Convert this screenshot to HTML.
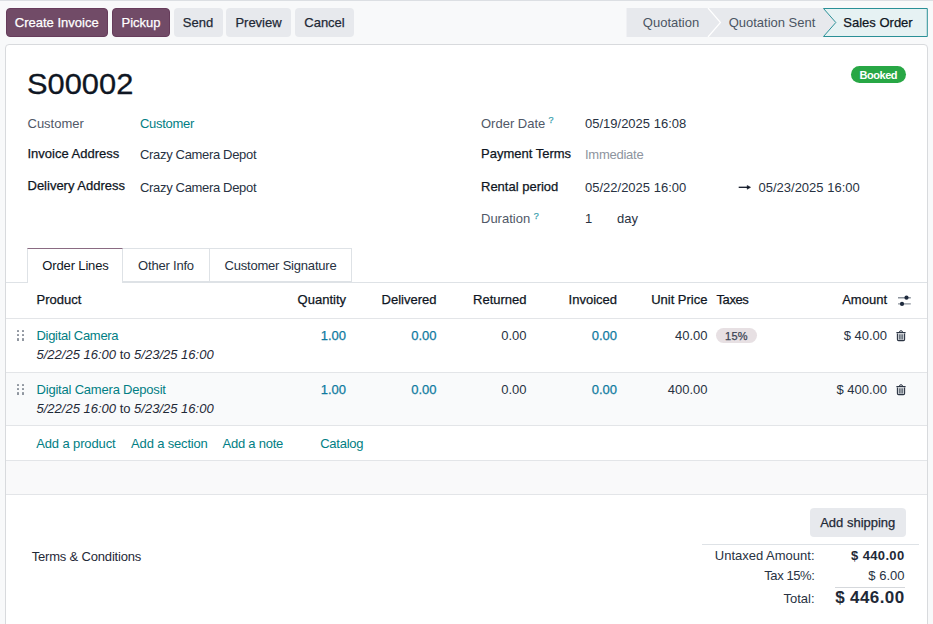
<!DOCTYPE html>
<html><head><meta charset="utf-8"><title>S00002</title>
<style>
html,body{margin:0;padding:0;}
html{overflow:hidden;background:#f8f9fa;}
body{width:933px;height:624px;overflow:hidden;position:relative;background:#f8f9fa;font-family:"Liberation Sans",sans-serif;}
.t{position:absolute;white-space:nowrap;}
.r{position:absolute;}
</style></head><body>
<div class="r" style="left:0px;top:0px;width:933px;height:1px;background:#dcdfe3;"></div>
<div class="r" style="left:5.5px;top:8px;width:102.5px;height:29px;background:#714b67;border-radius:4px;border:1px solid #663c5b;box-sizing:border-box;"></div>
<div class="t" style="top:14.40px;font-size:13px;line-height:18px;color:#fff;left:-143.25px;width:400px;text-align:center;-webkit-text-stroke:0.25px currentColor;">Create Invoice</div>
<div class="r" style="left:112px;top:8px;width:58px;height:29px;background:#714b67;border-radius:4px;border:1px solid #663c5b;box-sizing:border-box;"></div>
<div class="t" style="top:14.40px;font-size:13px;line-height:18px;color:#fff;left:-59px;width:400px;text-align:center;-webkit-text-stroke:0.25px currentColor;">Pickup</div>
<div class="r" style="left:173.5px;top:8px;width:49.0px;height:29px;background:#e7e9ed;border-radius:4px;"></div>
<div class="t" style="top:14.40px;font-size:13px;line-height:18px;color:#1f2937;left:-2.0px;width:400px;text-align:center;-webkit-text-stroke:0.25px currentColor;">Send</div>
<div class="r" style="left:226px;top:8px;width:65px;height:29px;background:#e7e9ed;border-radius:4px;"></div>
<div class="t" style="top:14.40px;font-size:13px;line-height:18px;color:#1f2937;left:58.5px;width:400px;text-align:center;-webkit-text-stroke:0.25px currentColor;">Preview</div>
<div class="r" style="left:295px;top:8px;width:59px;height:29px;background:#e7e9ed;border-radius:4px;"></div>
<div class="t" style="top:14.40px;font-size:13px;line-height:18px;color:#1f2937;left:124.5px;width:400px;text-align:center;-webkit-text-stroke:0.25px currentColor;">Cancel</div>
<svg class="r" style="left:626px;top:8px" width="302" height="29" viewBox="0 0 302 29">
<path d="M0.5 0 H82 L94.5 14.5 L82 29 H0.5 Z" fill="#e7e9ed"/>
<path d="M82 0 H197 L209.5 14.5 L197 29 H82 L94.5 14.5 Z" fill="#e7e9ed"/>
<path d="M82 0 L94.5 14.5 L82 29" fill="none" stroke="#fff" stroke-width="1.2"/>
<path d="M197.5 0.5 H301.3 V28.5 H197.5 L209.8 14.5 Z" fill="#e6f2f3" stroke="#2a9097" stroke-width="1"/>
</svg>
<div class="t" style="top:14.40px;font-size:13px;line-height:18px;color:#4b5563;left:471px;width:400px;text-align:center;">Quotation</div>
<div class="t" style="top:14.40px;font-size:13px;line-height:18px;color:#4b5563;left:572px;width:400px;text-align:center;">Quotation Sent</div>
<div class="t" style="top:14.40px;font-size:13px;line-height:18px;color:#0f1623;left:678px;width:400px;text-align:center;-webkit-text-stroke:0.25px currentColor;">Sales Order</div>
<div class="r" style="left:5px;top:44px;width:923px;height:640px;background:#fff;border:1px solid #d8dadd;border-radius:4px;box-sizing:border-box;"></div>
<div class="r" style="left:851px;top:66px;width:54.5px;height:16.5px;background:#28a745;border-radius:9px;"></div>
<div class="t" style="top:67.59px;font-size:11px;line-height:15px;color:#fff;left:678.3px;width:400px;text-align:center;font-weight:bold;letter-spacing:-0.45px;">Booked</div>
<div class="t" style="top:62.57px;font-size:29.8px;line-height:42px;color:#0f1623;left:26.9px;transform:scaleX(1.035);transform-origin:0 0;-webkit-text-stroke:0.3px currentColor;">S00002</div>
<div class="t" style="top:115.40px;font-size:13px;line-height:18px;color:#505867;left:27.5px;">Customer</div>
<div class="t" style="top:115.40px;font-size:13px;line-height:18px;color:#017e84;left:140px;letter-spacing:-0.3px;">Customer</div>
<div class="t" style="top:145.10px;font-size:13px;line-height:18px;color:#0f1623;left:27.5px;-webkit-text-stroke:0.25px currentColor;">Invoice Address</div>
<div class="t" style="top:145.80px;font-size:13px;line-height:18px;color:#283242;left:140px;letter-spacing:-0.33px;">Crazy Camera Depot</div>
<div class="t" style="top:177.40px;font-size:13px;line-height:18px;color:#0f1623;left:27.5px;-webkit-text-stroke:0.25px currentColor;">Delivery Address</div>
<div class="t" style="top:178.70px;font-size:13px;line-height:18px;color:#283242;left:140px;letter-spacing:-0.33px;">Crazy Camera Depot</div>
<div class="t" style="top:115.20px;font-size:13px;line-height:18px;color:#505867;left:481px;">Order Date</div>
<div class="t" style="top:114.38px;font-size:9px;line-height:13px;color:#3a9fae;left:548.4px;-webkit-text-stroke:0.25px currentColor;">?</div>
<div class="t" style="top:115.40px;font-size:13px;line-height:18px;color:#283242;left:585px;">05/19/2025 16:08</div>
<div class="t" style="top:145.10px;font-size:13px;line-height:18px;color:#0f1623;left:481px;-webkit-text-stroke:0.25px currentColor;">Payment Terms</div>
<div class="t" style="top:145.50px;font-size:13px;line-height:18px;color:#8d949e;left:585px;letter-spacing:-0.25px;">Immediate</div>
<div class="t" style="top:178.10px;font-size:13px;line-height:18px;color:#0f1623;left:481px;-webkit-text-stroke:0.25px currentColor;">Rental period</div>
<div class="t" style="top:178.70px;font-size:13px;line-height:18px;color:#283242;left:585px;">05/22/2025 16:00</div>
<svg class="r" style="left:738px;top:183px" width="14" height="9" viewBox="0 0 14 9"><path d="M0.7 4.3 H10.5" stroke="#111827" stroke-width="1.3"/><path d="M9.2 2.4 L12.6 4.3 L9.2 6.3 Z" fill="#111827" stroke="#111827" stroke-width="0.5" stroke-linejoin="round"/></svg>
<div class="t" style="top:178.70px;font-size:13px;line-height:18px;color:#283242;left:758.5px;">05/23/2025 16:00</div>
<div class="t" style="top:210.40px;font-size:13px;line-height:18px;color:#505867;left:481px;">Duration</div>
<div class="t" style="top:209.58px;font-size:9px;line-height:13px;color:#3a9fae;left:533.8px;-webkit-text-stroke:0.25px currentColor;">?</div>
<div class="t" style="top:210.40px;font-size:13px;line-height:18px;color:#283242;left:585px;">1</div>
<div class="t" style="top:210.40px;font-size:13px;line-height:18px;color:#283242;left:617px;">day</div>
<div class="r" style="left:6px;top:281.5px;width:921px;height:1px;background:#dee2e6;"></div>
<div class="r" style="left:27px;top:248px;width:95.5px;height:34.5px;background:#fff;border:1px solid #dee2e6;border-bottom:none;border-top:1px solid #8a6b82;box-sizing:border-box;"></div>
<div class="r" style="left:122.5px;top:248px;width:87px;height:34px;background:#fff;border:1px solid #dee2e6;border-left:none;box-sizing:border-box;"></div>
<div class="r" style="left:209px;top:248px;width:143px;height:34px;background:#fff;border:1px solid #dee2e6;border-left:1px solid #dee2e6;box-sizing:border-box;"></div>
<div class="t" style="top:256.90px;font-size:13px;line-height:18px;color:#0f1623;left:-124.5px;width:400px;text-align:center;letter-spacing:-0.15px;">Order Lines</div>
<div class="t" style="top:256.90px;font-size:13px;line-height:18px;color:#283242;left:-34px;width:400px;text-align:center;letter-spacing:-0.2px;">Other Info</div>
<div class="t" style="top:256.90px;font-size:13px;line-height:18px;color:#283242;left:80.5px;width:400px;text-align:center;letter-spacing:-0.2px;">Customer Signature</div>
<div class="r" style="left:6px;top:317.5px;width:921px;height:1px;background:#e3e5e8;"></div>
<div class="t" style="top:291.20px;font-size:13px;line-height:18px;color:#0f1623;left:36.5px;-webkit-text-stroke:0.25px currentColor;">Product</div>
<div class="t" style="top:291.20px;font-size:13px;line-height:18px;color:#0f1623;right:587px;-webkit-text-stroke:0.25px currentColor;">Quantity</div>
<div class="t" style="top:291.20px;font-size:13px;line-height:18px;color:#0f1623;right:496.5px;-webkit-text-stroke:0.25px currentColor;">Delivered</div>
<div class="t" style="top:291.20px;font-size:13px;line-height:18px;color:#0f1623;right:406.5px;-webkit-text-stroke:0.25px currentColor;">Returned</div>
<div class="t" style="top:291.20px;font-size:13px;line-height:18px;color:#0f1623;right:316px;-webkit-text-stroke:0.25px currentColor;">Invoiced</div>
<div class="t" style="top:291.20px;font-size:13px;line-height:18px;color:#0f1623;right:225.5px;-webkit-text-stroke:0.25px currentColor;">Unit Price</div>
<div class="t" style="top:291.20px;font-size:13px;line-height:18px;color:#0f1623;right:46px;-webkit-text-stroke:0.25px currentColor;">Amount</div>
<div class="t" style="top:291.20px;font-size:13px;line-height:18px;color:#0f1623;left:716.5px;-webkit-text-stroke:0.25px currentColor;letter-spacing:-0.4px;">Taxes</div>
<svg class="r" style="left:897px;top:295px" width="15" height="12" viewBox="0 0 15 12">
<path d="M1 2.7 H13.8 M1 8.9 H13.8" stroke="#8e959e" stroke-width="1.4"/>
<circle cx="9.5" cy="2.7" r="2.1" fill="#1e2a3d"/><circle cx="5" cy="8.9" r="2.1" fill="#1e2a3d"/>
</svg>
<div class="r" style="left:6px;top:318.5px;width:921px;height:53px;background:#fff;"></div>
<div class="r" style="left:6px;top:371.5px;width:921px;height:1px;background:#e3e5e8;"></div>
<div class="r" style="left:6px;top:372.5px;width:921px;height:53px;background:#f9fafb;"></div>
<div class="r" style="left:6px;top:425px;width:921px;height:1px;background:#e3e5e8;"></div>
<div class="r" style="left:17.2px;top:329.5px;width:2.3px;height:2.3px;background:#8f969f;border-radius:0.5px;"></div>
<div class="r" style="left:17.2px;top:333.9px;width:2.3px;height:2.3px;background:#8f969f;border-radius:0.5px;"></div>
<div class="r" style="left:17.2px;top:338.3px;width:2.3px;height:2.3px;background:#8f969f;border-radius:0.5px;"></div>
<div class="r" style="left:21.6px;top:329.5px;width:2.3px;height:2.3px;background:#8f969f;border-radius:0.5px;"></div>
<div class="r" style="left:21.6px;top:333.9px;width:2.3px;height:2.3px;background:#8f969f;border-radius:0.5px;"></div>
<div class="r" style="left:21.6px;top:338.3px;width:2.3px;height:2.3px;background:#8f969f;border-radius:0.5px;"></div>
<div class="t" style="top:326.70px;font-size:13px;line-height:18px;color:#017e84;left:36.5px;letter-spacing:-0.3px;">Digital Camera</div>
<div class="t" style="top:346.00px;font-size:13px;line-height:18px;color:#1f2937;left:36.5px;font-style:italic;">5/22/25 16:00 <span style="font-style:normal">to</span> 5/23/25 16:00</div>
<div class="t" style="top:326.70px;font-size:13px;line-height:18px;color:#0f7a9f;right:587px;-webkit-text-stroke:0.25px currentColor;">1.00</div>
<div class="t" style="top:326.70px;font-size:13px;line-height:18px;color:#0f7a9f;right:496.5px;-webkit-text-stroke:0.25px currentColor;">0.00</div>
<div class="t" style="top:326.70px;font-size:13px;line-height:18px;color:#283242;right:406.5px;">0.00</div>
<div class="t" style="top:326.70px;font-size:13px;line-height:18px;color:#0f7a9f;right:316px;-webkit-text-stroke:0.25px currentColor;">0.00</div>
<div class="t" style="top:326.70px;font-size:13px;line-height:18px;color:#283242;right:225.5px;">40.00</div>
<div class="t" style="top:326.70px;font-size:13px;line-height:18px;color:#283242;right:46px;">$ 40.00</div>
<svg class="r" style="left:895.8px;top:329.8px" width="11" height="12" viewBox="0 0 11 12">
<path d="M3.4 2.4 Q3.4 0.7 5 0.7 Q6.6 0.7 6.6 2.4" stroke="#2b3443" stroke-width="1" fill="none"/>
<path d="M0.4 2.6 H9.6" stroke="#2b3443" stroke-width="1.2"/>
<path d="M1.4 3.4 V9.4 Q1.4 10.6 2.6 10.6 H7.4 Q8.6 10.6 8.6 9.4 V3.4" stroke="#2b3443" stroke-width="1.1" fill="#c9cdd2"/>
<path d="M3.6 4.4 V9.4 M5 4.4 V9.4 M6.4 4.4 V9.4" stroke="#4b5563" stroke-width="0.8"/>
</svg>
<div class="r" style="left:17.2px;top:383.5px;width:2.3px;height:2.3px;background:#8f969f;border-radius:0.5px;"></div>
<div class="r" style="left:17.2px;top:387.9px;width:2.3px;height:2.3px;background:#8f969f;border-radius:0.5px;"></div>
<div class="r" style="left:17.2px;top:392.3px;width:2.3px;height:2.3px;background:#8f969f;border-radius:0.5px;"></div>
<div class="r" style="left:21.6px;top:383.5px;width:2.3px;height:2.3px;background:#8f969f;border-radius:0.5px;"></div>
<div class="r" style="left:21.6px;top:387.9px;width:2.3px;height:2.3px;background:#8f969f;border-radius:0.5px;"></div>
<div class="r" style="left:21.6px;top:392.3px;width:2.3px;height:2.3px;background:#8f969f;border-radius:0.5px;"></div>
<div class="t" style="top:380.70px;font-size:13px;line-height:18px;color:#017e84;left:36.5px;letter-spacing:-0.2px;">Digital Camera Deposit</div>
<div class="t" style="top:400.00px;font-size:13px;line-height:18px;color:#1f2937;left:36.5px;font-style:italic;">5/22/25 16:00 <span style="font-style:normal">to</span> 5/23/25 16:00</div>
<div class="t" style="top:380.70px;font-size:13px;line-height:18px;color:#0f7a9f;right:587px;-webkit-text-stroke:0.25px currentColor;">1.00</div>
<div class="t" style="top:380.70px;font-size:13px;line-height:18px;color:#0f7a9f;right:496.5px;-webkit-text-stroke:0.25px currentColor;">0.00</div>
<div class="t" style="top:380.70px;font-size:13px;line-height:18px;color:#283242;right:406.5px;">0.00</div>
<div class="t" style="top:380.70px;font-size:13px;line-height:18px;color:#0f7a9f;right:316px;-webkit-text-stroke:0.25px currentColor;">0.00</div>
<div class="t" style="top:380.70px;font-size:13px;line-height:18px;color:#283242;right:225.5px;">400.00</div>
<div class="t" style="top:380.70px;font-size:13px;line-height:18px;color:#283242;right:46px;">$ 400.00</div>
<svg class="r" style="left:895.8px;top:383.8px" width="11" height="12" viewBox="0 0 11 12">
<path d="M3.4 2.4 Q3.4 0.7 5 0.7 Q6.6 0.7 6.6 2.4" stroke="#2b3443" stroke-width="1" fill="none"/>
<path d="M0.4 2.6 H9.6" stroke="#2b3443" stroke-width="1.2"/>
<path d="M1.4 3.4 V9.4 Q1.4 10.6 2.6 10.6 H7.4 Q8.6 10.6 8.6 9.4 V3.4" stroke="#2b3443" stroke-width="1.1" fill="#c9cdd2"/>
<path d="M3.6 4.4 V9.4 M5 4.4 V9.4 M6.4 4.4 V9.4" stroke="#4b5563" stroke-width="0.8"/>
</svg>
<div class="r" style="left:716px;top:327.7px;width:41px;height:15.3px;background:#e7e0e3;border-radius:8px;"></div>
<div class="t" style="top:328.79px;font-size:11px;line-height:15px;color:#3b4454;left:536.5px;width:400px;text-align:center;-webkit-text-stroke:0.25px currentColor;letter-spacing:0.3px;">15%</div>
<div class="t" style="top:434.80px;font-size:13px;line-height:18px;color:#017e84;left:36.2px;letter-spacing:-0.12px;">Add a product</div>
<div class="t" style="top:434.80px;font-size:13px;line-height:18px;color:#017e84;left:131.1px;letter-spacing:-0.17px;">Add a section</div>
<div class="t" style="top:434.80px;font-size:13px;line-height:18px;color:#017e84;left:222.6px;letter-spacing:-0.25px;">Add a note</div>
<div class="t" style="top:434.80px;font-size:13px;line-height:18px;color:#017e84;left:320.2px;letter-spacing:-0.25px;">Catalog</div>
<div class="r" style="left:6px;top:460px;width:921px;height:1px;background:#e3e5e8;"></div>
<div class="r" style="left:6px;top:461px;width:921px;height:33px;background:#f9f9fa;"></div>
<div class="r" style="left:6px;top:493.5px;width:921px;height:1px;background:#e3e5e8;"></div>
<div class="t" style="top:547.90px;font-size:13px;line-height:18px;color:#1f2937;left:31.7px;letter-spacing:-0.18px;">Terms &amp; Conditions</div>
<div class="r" style="left:810px;top:508px;width:95.5px;height:28.5px;background:#e7e9ed;border-radius:4px;"></div>
<div class="t" style="top:513.90px;font-size:13px;line-height:18px;color:#1f2937;left:657.75px;width:400px;text-align:center;-webkit-text-stroke:0.25px currentColor;">Add shipping</div>
<div class="r" style="left:702px;top:543.7px;width:217px;height:1px;background:#dee2e6;"></div>
<div class="t" style="top:546.50px;font-size:13px;line-height:18px;color:#283242;right:118.5px;">Untaxed Amount:</div>
<div class="t" style="top:546.50px;font-size:13px;line-height:18px;color:#1f2937;right:28.5px;font-weight:bold;letter-spacing:0.35px;">$ 440.00</div>
<div class="t" style="top:566.50px;font-size:13px;line-height:18px;color:#283242;right:118.5px;letter-spacing:-0.4px;">Tax 15%:</div>
<div class="t" style="top:566.50px;font-size:13px;line-height:18px;color:#283242;right:28.5px;">$ 6.00</div>
<div class="r" style="left:835px;top:586.7px;width:69.5px;height:1px;background:#d5d8dc;"></div>
<div class="t" style="top:589.90px;font-size:13px;line-height:18px;color:#283242;right:118.5px;">Total:</div>
<div class="t" style="top:586.31px;font-size:17px;line-height:24px;color:#1f2937;right:28.5px;font-weight:bold;letter-spacing:0.4px;">$ 446.00</div>
</body></html>
